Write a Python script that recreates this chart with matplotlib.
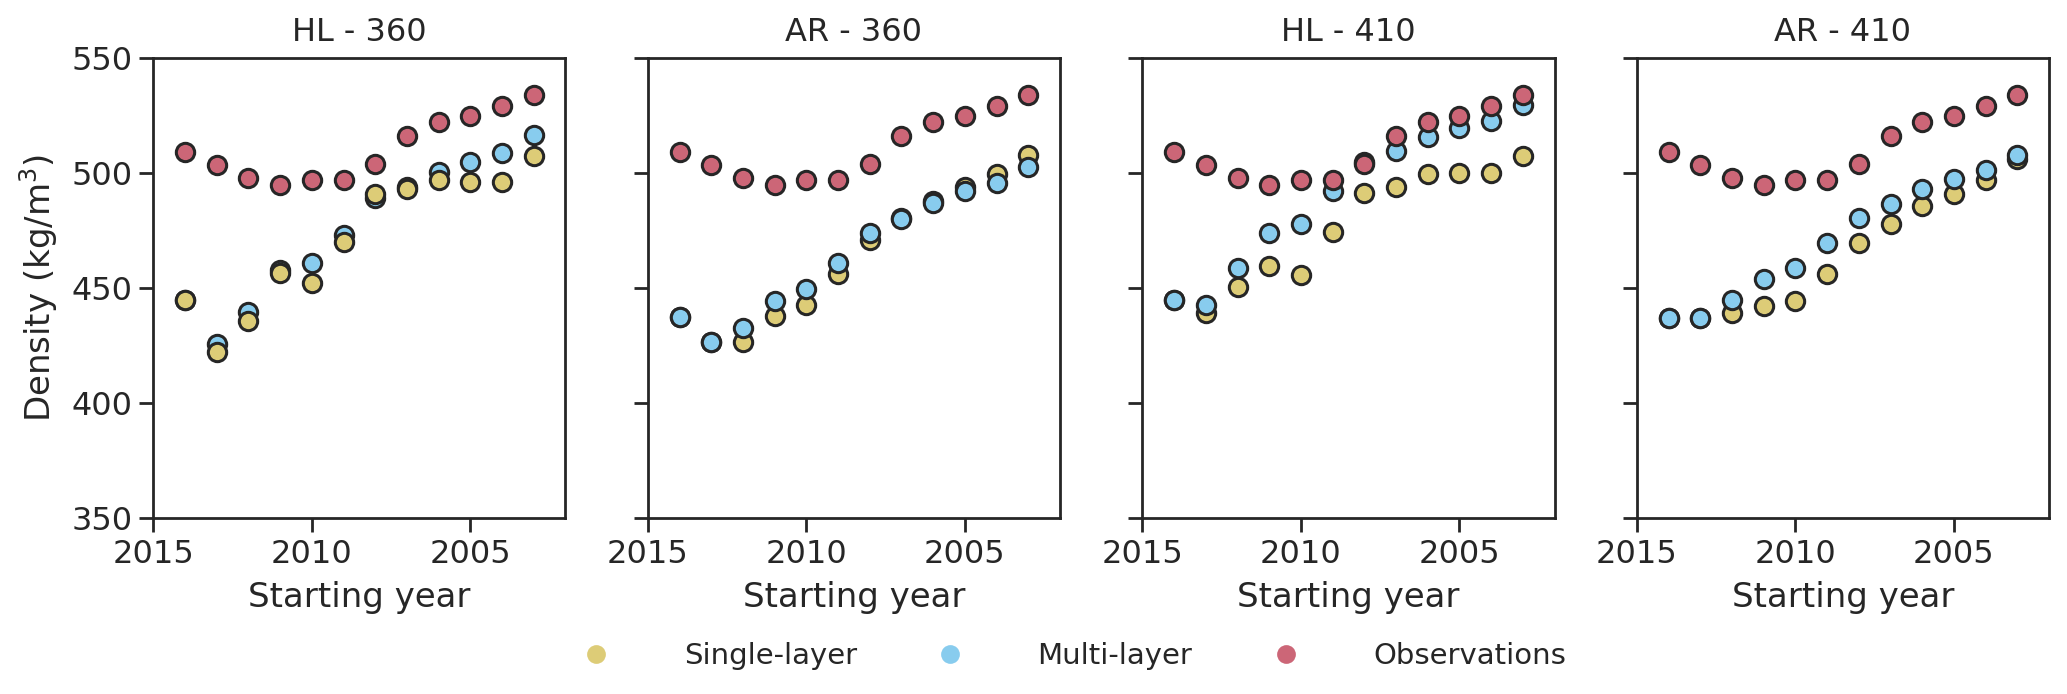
import matplotlib
matplotlib.use("Agg")
import matplotlib.pyplot as plt
from matplotlib.lines import Line2D

years = [2014, 2013, 2012, 2011, 2010, 2009, 2008, 2007, 2006, 2005, 2004, 2003]
titles = ["HL - 360", "AR - 360", "HL - 410", "AR - 410"]

observations = [509, 503.5, 498, 495, 497, 497, 504, 516, 522, 525, 529, 534]

single_hl360 = [445, 422, 435.5, 456.5, 452, 470, 491, 493, 497, 496, 496, 507.5]
multi_hl360 = [445, 425.5, 439.5, 458, 461, 473, 489, 494, 500.5, 505, 508.5, 516.5]

single_ar360 = [437.5, 426.5, 426.5, 438, 442.5, 456, 471, 480.5, 488, 494, 499.5, 508]
multi_ar360 = [437.5, 426.5, 432.5, 444.5, 449.5, 461, 474, 480, 487, 492, 495.5, 502.5]

single_hl410 = [445, 439, 450.5, 459.5, 455.5, 474.5, 491.5, 494, 499.5, 500, 500, 507.5]
multi_hl410 = [445, 442.5, 458.5, 474, 478, 492, 505, 509.5, 515.5, 519.5, 522.5, 529.5]

single_ar410 = [437, 437, 439, 442, 444.5, 456, 469.5, 478, 485.5, 491, 497, 506]
multi_ar410 = [437, 437, 445, 454, 458.5, 469.5, 480.5, 486.5, 493, 497.5, 501.5, 508]

singles = [single_hl360, single_ar360, single_hl410, single_ar410]
multis = [multi_hl360, multi_ar360, multi_hl410, multi_ar410]

c_single = "#DDCC77"
c_multi = "#88CCEE"
c_obs = "#CC6677"
dark = "#262626"

plt.rcParams["font.family"] = ["DejaVu Sans"]
plt.rcParams["text.color"] = dark
plt.rcParams["axes.labelcolor"] = dark
plt.rcParams["xtick.color"] = dark
plt.rcParams["ytick.color"] = dark

fig, axes = plt.subplots(1, 4, figsize=(20.67, 6.94), dpi=100, sharey=True)
fig.subplots_adjust(left=0.0742, right=0.9913, top=0.9164, bottom=0.2536, wspace=0.2)

mk = dict(marker="o", linestyle="none", markersize=13.2, markeredgecolor=dark, markeredgewidth=2.2)

for i, ax in enumerate(axes):
    if i == 0:
        zs, zm = 3, 2
    else:
        zs, zm = 2, 3
    ax.plot(years, singles[i], color=c_single, zorder=zs, clip_on=False, **mk)
    ax.plot(years, multis[i], color=c_multi, zorder=zm, clip_on=False, **mk)
    ax.plot(years, observations, color=c_obs, zorder=4, clip_on=False, **mk)
    ax.set_xlim(2015, 2002)
    ax.set_ylim(350, 550)
    ax.set_xticks([2015, 2010, 2005])
    ax.set_yticks([350, 400, 450, 500, 550])
    ax.set_title(titles[i], fontsize=23, pad=12)
    ax.set_xlabel("Starting year", fontsize=24.5, labelpad=8)
    for s in ax.spines.values():
        s.set_linewidth(2.0)
        s.set_color(dark)
    ax.tick_params(axis="both", labelsize=23, width=2.0, length=10, direction="out", pad=5)
    ax.tick_params(axis="y", labelleft=(i == 0))

axes[0].set_ylabel("Density (kg/m$^3$)", fontsize=24.5, labelpad=8)

handles = [
    Line2D([], [], marker="o", linestyle="none", markersize=13.5, color=c_single, markeredgewidth=0),
    Line2D([], [], marker="o", linestyle="none", markersize=13.5, color=c_multi, markeredgewidth=0),
    Line2D([], [], marker="o", linestyle="none", markersize=13.5, color=c_obs, markeredgewidth=0),
]
fig.legend(handles, ["Single-layer", "Multi-layer", "Observations"], loc="center",
           bbox_to_anchor=(0.516, 0.055), ncol=3, frameon=False, fontsize=21,
           columnspacing=2.2, handletextpad=2.0)

fig.savefig("out.png", dpi=100)
